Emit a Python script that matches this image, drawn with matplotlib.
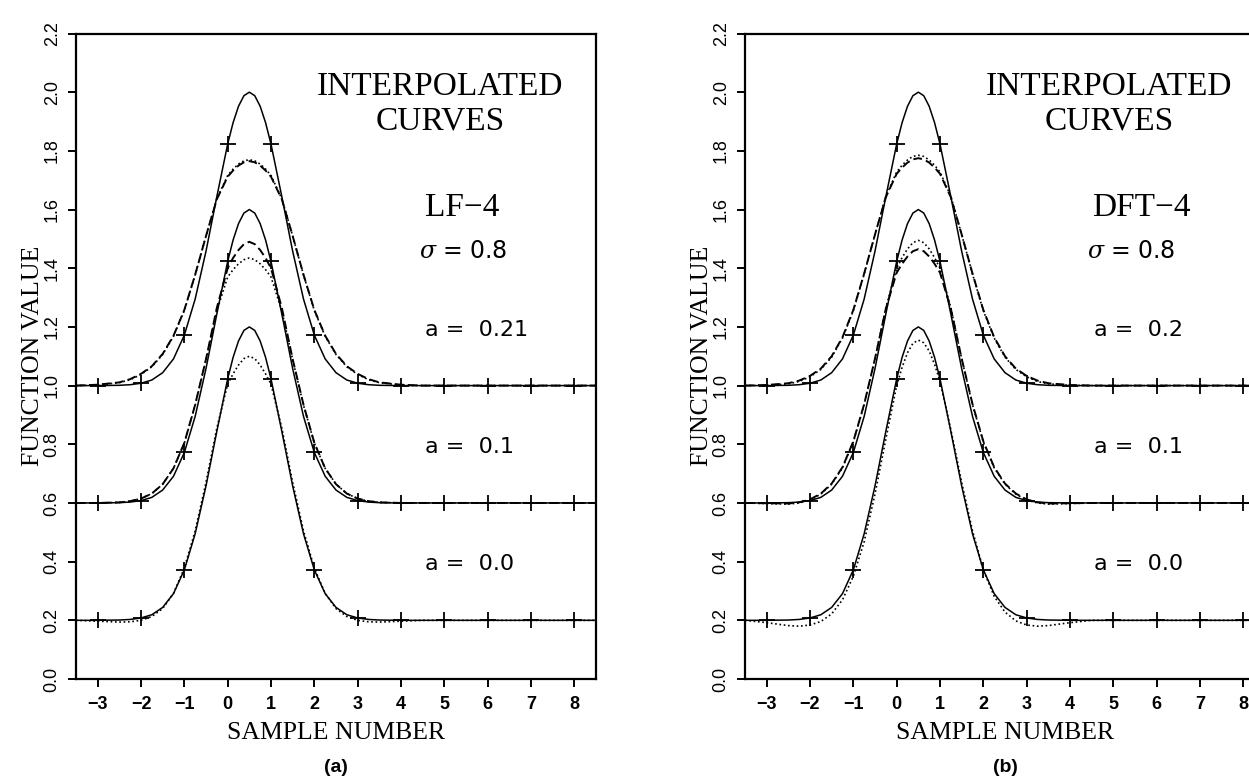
import matplotlib
matplotlib.use("Agg")
import matplotlib.pyplot as plt

# x grid of the drawn curves (sample number)
xs = [-3.5, -3.0, -2.5, -2.25, -2.0, -1.75, -1.5, -1.25, -1.0, -0.75, -0.5, -0.25,
      0.0, 0.125, 0.25, 0.375, 0.5, 0.625, 0.75, 0.875, 1.0, 1.25, 1.5, 1.75,
      2.0, 2.25, 2.5, 2.75, 3.0, 3.25, 3.5, 4.0, 4.5, 8.5]

# vertical offsets of the three stacked cases
baselines = [0.2, 0.6, 1.0]

# original gaussian (solid), height above its baseline
solid = [0, 0, .001, .003, .008, .019, .044, .091, .172, .295, .458, .644,
         .823, .896, .952, .988, 1.000, .988, .952, .896, .823, .644, .458, .295,
         .172, .091, .044, .019, .008, .003, .001, 0, 0, 0]

# samples (the + marks)
sample_x = [-3, -2, -1, 0, 1, 2, 3, 4, 5, 6, 7, 8]
sample_y = [0, .008, .172, .823, .823, .172, .008, 0, 0, 0, 0, 0]

# LF-4 panel, interpolated curves: a = 0.0, 0.1, 0.21
lf_dashed = [
    None,
    [0, 0, .002, .006, .015, .032, .064, .118, .205, .335, .490, .665,
     .800, .835, .862, .882, .890, .882, .862, .835, .800, .665, .490, .335,
     .205, .118, .064, .032, .015, .006, .002, 0, 0, 0],
    [0, .003, .011, .022, .040, .066, .108, .170, .258, .378, .510, .635,
     .712, .733, .750, .761, .765, .761, .750, .733, .712, .635, .510, .378,
     .258, .170, .108, .066, .040, .022, .011, .003, 0, 0],
]
lf_dotted = [
    [0, -.003, -.006, -.005, .000, .013, .040, .092, .178, .305, .470, .655,
     .805, .840, .870, .892, .900, .892, .870, .840, .805, .655, .470, .305,
     .178, .092, .040, .013, .000, -.005, -.006, -.003, 0, 0],
    [0, 0, .002, .006, .015, .032, .064, .118, .204, .333, .488, .655,
     .770, .795, .815, .829, .835, .829, .815, .795, .770, .655, .488, .333,
     .204, .118, .064, .032, .015, .006, .002, 0, 0, 0],
    [0, .002, .010, .020, .038, .064, .106, .168, .256, .377, .510, .637,
     .716, .738, .755, .766, .770, .766, .755, .738, .716, .637, .510, .377,
     .256, .168, .106, .064, .038, .020, .010, .002, 0, 0],
]

# DFT-4 panel, interpolated curves: a = 0.0, 0.1, 0.2
dft_dashed = [
    None,
    [0, -.001, -.002, .002, .012, .032, .066, .122, .210, .337, .492, .662,
     .785, .815, .840, .858, .865, .858, .840, .815, .785, .662, .492, .337,
     .210, .122, .066, .032, .012, .002, -.002, -.001, 0, 0],
    [0, .002, .008, .017, .033, .058, .100, .165, .258, .382, .515, .642,
     .722, .743, .760, .771, .775, .771, .760, .743, .722, .642, .515, .382,
     .258, .165, .100, .058, .033, .017, .008, .002, 0, 0],
]
dft_dotted = [
    [0, -.008, -.018, -.020, -.016, -.004, .022, .070, .150, .268, .430, .618,
     .800, .862, .912, .944, .955, .946, .918, .872, .815, .650, .470, .305,
     .172, .082, .028, -.002, -.016, -.020, -.018, -.008, 0, 0],
    [0, -.002, -.004, .000, .010, .030, .064, .120, .208, .335, .492, .665,
     .800, .836, .866, .887, .895, .887, .866, .836, .800, .665, .492, .335,
     .208, .120, .064, .030, .010, .000, -.004, -.002, 0, 0],
    [0, .001, .006, .014, .030, .055, .097, .162, .255, .380, .515, .645,
     .728, .751, .769, .781, .785, .781, .769, .751, .728, .645, .515, .380,
     .255, .162, .097, .055, .030, .014, .006, .001, 0, 0],
]

xtick_vals = [-3, -2, -1, 0, 1, 2, 3, 4, 5, 6, 7, 8]
xtick_text = ["\u22123", "\u22122", "\u22121", "0", "1", "2", "3", "4", "5", "6", "7", "8"]
ytick_vals = [0.0, 0.2, 0.4, 0.6, 0.8, 1.0, 1.2, 1.4, 1.6, 1.8, 2.0, 2.2]
ytick_text = ["0.0", "0.2", "0.4", "0.6", "0.8", "1.0", "1.2", "1.4", "1.6", "1.8", "2.0", "2.2"]

panels = [
    dict(name="LF\u22124", a_labels=["a = 0.0", "a = 0.1", "a = 0.21"],
         dashed=lf_dashed, dotted=lf_dotted, tag="(a)", left=76,
         name_x=0.742, sig_x=0.744),
    dict(name="DFT\u22124", a_labels=["a = 0.0", "a = 0.1", "a = 0.2"],
         dashed=dft_dashed, dotted=dft_dotted, tag="(b)", left=745,
         name_x=0.762, sig_x=0.742),
]

plt.rcParams["mathtext.fontset"] = "dejavuserif"
serif = "Liberation Serif"

W, H = 1249, 779
fig = plt.figure(figsize=(W / 100, H / 100), dpi=100)

for p in panels:
    ax = fig.add_axes([p["left"] / W, 100 / H, 520 / W, 645.5 / H])
    ax.set_xlim(-3.5, 8.5)
    ax.set_ylim(0.0, 2.2)

    for i, b in enumerate(baselines):
        ax.plot(xs, [b + v for v in solid], color="black", lw=1.1)
        ax.plot(sample_x, [b + v for v in sample_y], ls="none", marker="+",
                ms=11, mew=1.3, color="black")
        if p["dashed"][i] is not None:
            ax.plot(xs, [b + v for v in p["dashed"][i]], color="black", lw=1.4,
                    ls=(0, (4.5, 2.2)))
        if p["dotted"][i] is not None:
            ax.plot(xs, [b + v for v in p["dotted"][i]], color="black", lw=1.2,
                    ls=(0, (1.0, 1.6)))

    for s in ax.spines.values():
        s.set_linewidth(1.6)
    ax.set_xticks(xtick_vals)
    ax.set_xticklabels(xtick_text, fontfamily="Liberation Sans",
                       fontweight="bold", fontsize=13)
    ax.set_yticks(ytick_vals)
    ax.set_yticklabels(ytick_text, fontfamily="Liberation Sans", fontsize=13,
                       rotation=90, va="center")
    ax.tick_params(direction="out", length=6, width=1.4)
    ax.tick_params(axis="x", pad=6)
    ax.tick_params(axis="y", pad=5)

    ax.set_xlabel("SAMPLE NUMBER", fontfamily=serif, fontsize=18.5, labelpad=7)
    ax.set_ylabel("FUNCTION VALUE", fontfamily=serif, fontsize=18.5, labelpad=0)

    ax.text(0.70, 0.905, "INTERPOLATED", transform=ax.transAxes,
            fontfamily=serif, fontsize=24, ha="center", va="baseline")
    ax.text(0.70, 0.852, "CURVES", transform=ax.transAxes,
            fontfamily=serif, fontsize=24, ha="center", va="baseline")
    ax.text(p["name_x"], 0.718, p["name"], transform=ax.transAxes,
            fontfamily=serif, fontsize=24, ha="center", va="baseline")
    ax.text(p["sig_x"], 0.652, r"$\sigma$ = 0.8", transform=ax.transAxes,
            fontfamily="DejaVu Sans", fontsize=17, ha="center", va="baseline")
    for i, b in enumerate(baselines):
        ax.text(0.672, (b + 0.17) / 2.2, p["a_labels"][i].replace("= ", "=  "),
                transform=ax.transAxes, fontfamily="DejaVu Sans", fontsize=16,
                ha="left", va="baseline")

    ax.text(0.5, -0.137, p["tag"], transform=ax.transAxes,
            fontfamily="Liberation Sans", fontweight="bold", fontsize=14,
            ha="center", va="center")

fig.savefig("out.png", dpi=100)
